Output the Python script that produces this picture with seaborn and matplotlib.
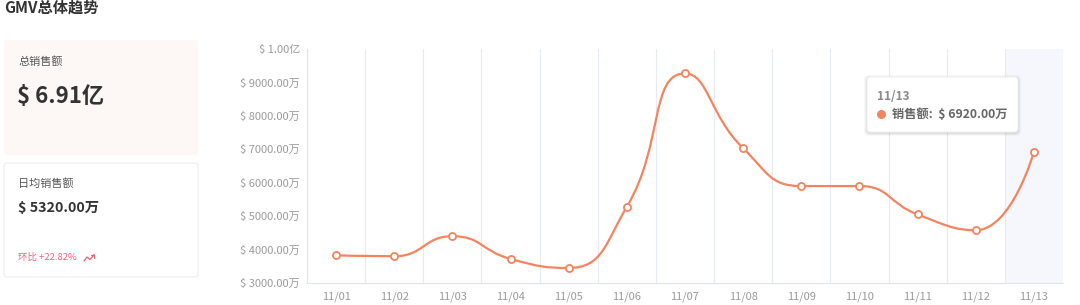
import math
import numpy as np
import pandas as pd
import matplotlib
matplotlib.use("Agg")
import matplotlib.pyplot as plt
import seaborn as sns
from matplotlib.path import Path
from matplotlib.patches import PathPatch, FancyBboxPatch
from matplotlib.lines import Line2D

# ---------------- data ----------------
dates = ["11/01", "11/02", "11/03", "11/04", "11/05", "11/06", "11/07",
         "11/08", "11/09", "11/10", "11/11", "11/12", "11/13"]
gmv_wan = [3830, 3800, 4400, 3720, 3450, 5280, 9270, 7030, 5900, 5900, 5050, 4580, 6920]
y_ticks = [3000, 4000, 5000, 6000, 7000, 8000, 9000, 10000]
y_tick_labels = ["$ 3000.00万", "$ 4000.00万", "$ 5000.00万", "$ 6000.00万",
                 "$ 7000.00万", "$ 8000.00万", "$ 9000.00万", "$ 1.00亿"]
title = "GMV总体趋势"
total_label = "总销售额"
total_value = "$ 6.91亿"
avg_label = "日均销售额"
avg_value = "$ 5320.00万"
mom_text = "环比 +22.82%"
tooltip_date = "11/13"
tooltip_text = "销售额:  $ 6920.00万"
highlight_idx = 12

# ---------------- style ----------------
sns.set_theme(style="white")
plt.rcParams['font.family'] = ['Noto Sans CJK SC', 'DejaVu Sans']

LINE = "#F4845F"
GRID = "#E6EAF3"
W, H = 1080, 305
fig = plt.figure(figsize=(W / 100, H / 100), dpi=100)
fig.patch.set_facecolor("white")

L, R, T, B = 307, 1063, 49, 283
ax = fig.add_axes([L / W, 1 - B / H, (R - L) / W, (B - T) / H])
df = pd.DataFrame({"date": dates, "gmv": gmv_wan, "x": np.arange(len(dates))})

ax.set_xlim(-0.5, len(dates) - 0.5)
ax.set_ylim(y_ticks[0], y_ticks[-1])
ax.axvspan(highlight_idx - 0.5, highlight_idx + 0.5, color="#F5F7FC", zorder=0, lw=0)
for b in np.arange(0.5, len(dates)):
    ax.axvline(b, color=GRID, lw=0.8, zorder=0.5)


def echarts_smooth(pts, smooth=0.5):
    verts = [tuple(pts[0])]
    codes = [Path.MOVETO]
    cp0 = tuple(pts[0])
    n = len(pts)
    for i in range(1, n):
        x, y = pts[i]
        px, py = pts[i - 1]
        if i == n - 1:
            cp1 = (x, y)
            ncp0 = None
        else:
            nx, ny = pts[i + 1]
            vx, vy = nx - px, ny - py
            lp = math.hypot(x - px, y - py)
            ln = math.hypot(nx - x, ny - y)
            r = ln / (ln + lp)
            ncx = x + vx * smooth * r
            ncy = y + vy * smooth * r
            ncx = min(ncx, max(nx, x)); ncy = min(ncy, max(ny, y))
            ncx = max(ncx, min(nx, x)); ncy = max(ncy, min(ny, y))
            vx, vy = ncx - x, ncy - y
            c1x = x - vx * lp / ln
            c1y = y - vy * lp / ln
            c1x = min(c1x, max(px, x)); c1y = min(c1y, max(py, y))
            c1x = max(c1x, min(px, x)); c1y = max(c1y, min(py, y))
            vx, vy = x - c1x, y - c1y
            ncx = x + vx * ln / lp
            ncy = y + vy * ln / lp
            cp1 = (c1x, c1y)
            ncp0 = (ncx, ncy)
        verts += [cp0, cp1, (x, y)]
        codes += [Path.CURVE4] * 3
        cp0 = ncp0
    return verts, codes


disp = ax.transData.transform(np.column_stack([df["x"], df["gmv"]]))
verts, codes = echarts_smooth(disp)
data_verts = ax.transData.inverted().transform(np.array(verts))
ax.add_patch(PathPatch(Path(data_verts, codes), fill=False, ec=LINE, lw=1.6,
                       zorder=4, capstyle="round", joinstyle="round"))

sns.scatterplot(data=df, x="x", y="gmv", ax=ax, marker="o", s=26, color="white",
                edgecolor=LINE, linewidth=1.3, zorder=5, legend=False)

ax.set_xticks(df["x"], dates)
ax.set_yticks(y_ticks, y_tick_labels)
ax.set_xlabel("")
ax.set_ylabel("")
ax.tick_params(axis="both", length=0, labelsize=8, colors="#9A9A9A")
ax.tick_params(axis="y", pad=5)
ax.tick_params(axis="x", pad=6)
for s in ["top", "right"]:
    ax.spines[s].set_visible(False)
for s in ["left", "bottom"]:
    ax.spines[s].set_color("#E0E6F1")
    ax.spines[s].set_linewidth(0.9)

# ---------------- overlay (pixel coordinates) ----------------
ov = fig.add_axes([0, 0, 1, 1], zorder=10)
ov.set_xlim(0, W)
ov.set_ylim(H, 0)
ov.axis("off")
ov.patch.set_alpha(0)

ov.text(4, 7.5, title, fontsize=11, fontweight="bold", color="#333333", va="center", ha="left")

ov.add_patch(FancyBboxPatch((4, 40), 194, 115, boxstyle="round,pad=0,rounding_size=3",
                            fc="#FDF7F5", ec="none"))
ov.text(18, 62, total_label, fontsize=8, color="#555555", va="center")
ov.text(17, 96, total_value, fontsize=16, fontweight="bold", color="#333333", va="center")

ov.add_patch(FancyBboxPatch((4, 163), 194, 114, boxstyle="round,pad=0,rounding_size=3",
                            fc="white", ec="#EEEEEE", lw=0.8))
ov.text(18, 184, avg_label, fontsize=8, color="#555555", va="center")
ov.text(18, 208, avg_value, fontsize=10.3, fontweight="bold", color="#333333", va="center")
ov.text(18, 257, mom_text, fontsize=6.8, color="#F0607A", va="center")
ov.add_line(Line2D([84, 87, 90, 94], [261, 257, 259.5, 254.5], color="#F0607A", lw=0.9))
ov.add_line(Line2D([91, 94, 94], [254.5, 254.5, 257.5], color="#F0607A", lw=0.9))

# tooltip
for k, a in enumerate([0.03, 0.04, 0.05]):
    g = 3 - k
    ov.add_patch(FancyBboxPatch((867 - g, 77 - g + 1), 151 + 2 * g, 55 + 2 * g,
                                boxstyle="round,pad=0,rounding_size=5", fc="#000000",
                                ec="none", alpha=a))
ov.add_patch(FancyBboxPatch((867, 77), 151, 55, boxstyle="round,pad=0,rounding_size=4",
                            fc="white", ec="#F0F0F0", lw=0.6))
ov.text(877, 96, tooltip_date, fontsize=8.6, fontweight="bold", color="#8A8A8A", va="center")
ov.scatter([881], [114], s=30, color=LINE, zorder=12)
ov.text(892, 114, tooltip_text, fontsize=8.8, fontweight="bold", color="#666666", va="center")

fig.savefig("out.png", dpi=100, facecolor="white")
